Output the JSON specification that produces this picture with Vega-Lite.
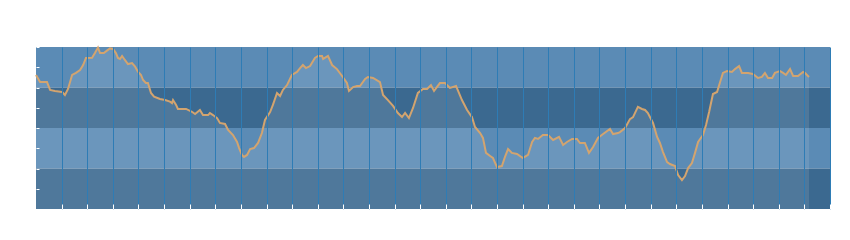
{
  "$schema": "https://vega.github.io/schema/vega-lite/v6.json",
  "width": 794,
  "height": 162,
  "autosize": {"type": "none"},
  "padding": {"left": 36, "top": 47, "right": 20, "bottom": 31},
  "background": "white",
  "config": {
    "view": {"stroke": null},
    "axis": {"labels": false, "domain": false, "title": null, "tickColor": "white", "tickWidth": 1},
    "axisX": {"grid": true, "gridColor": "#2e7cb5", "gridOpacity": 1, "gridWidth": 1, "tickSize": -5, "tickCount": 100},
    "axisY": {"grid": false, "tickSize": -3, "tickCount": 50}
  },
  "datasets": {
    "bands": [
      {"lo": 6, "hi": 8, "c": "a"},
      {"lo": 4, "hi": 6, "c": "b"},
      {"lo": 2, "hi": 4, "c": "a"},
      {"lo": 0, "hi": 2, "c": "b"}
    ],
    "series": [
      {"t": 0, "v": 6.62}, {"t": 0.16, "v": 6.27}, {"t": 0.43, "v": 6.27}, {"t": 0.55, "v": 5.88}, {"t": 0.74, "v": 5.83},
      {"t": 1.02, "v": 5.78}, {"t": 1.13, "v": 5.63}, {"t": 1.25, "v": 5.93}, {"t": 1.41, "v": 6.62}, {"t": 1.56, "v": 6.72},
      {"t": 1.72, "v": 6.86}, {"t": 1.84, "v": 7.11}, {"t": 1.95, "v": 7.46}, {"t": 2.19, "v": 7.47}, {"t": 2.3, "v": 7.7},
      {"t": 2.42, "v": 7.97}, {"t": 2.5, "v": 7.7}, {"t": 2.65, "v": 7.7}, {"t": 2.77, "v": 7.82}, {"t": 2.89, "v": 7.93},
      {"t": 3.01, "v": 7.9}, {"t": 3.12, "v": 7.7}, {"t": 3.2, "v": 7.46}, {"t": 3.28, "v": 7.41}, {"t": 3.36, "v": 7.56},
      {"t": 3.47, "v": 7.36}, {"t": 3.59, "v": 7.16}, {"t": 3.75, "v": 7.21}, {"t": 3.87, "v": 7.03}, {"t": 3.98, "v": 6.78},
      {"t": 4.1, "v": 6.62}, {"t": 4.18, "v": 6.37}, {"t": 4.29, "v": 6.22}, {"t": 4.37, "v": 6.22}, {"t": 4.49, "v": 5.73},
      {"t": 4.61, "v": 5.55}, {"t": 4.84, "v": 5.43}, {"t": 5.04, "v": 5.38}, {"t": 5.23, "v": 5.3}, {"t": 5.31, "v": 5.23},
      {"t": 5.35, "v": 5.38}, {"t": 5.47, "v": 5.14}, {"t": 5.54, "v": 4.94}, {"t": 5.86, "v": 4.94}, {"t": 6.09, "v": 4.8},
      {"t": 6.21, "v": 4.69}, {"t": 6.4, "v": 4.89}, {"t": 6.52, "v": 4.64}, {"t": 6.72, "v": 4.64}, {"t": 6.79, "v": 4.74},
      {"t": 6.91, "v": 4.64}, {"t": 7.07, "v": 4.49}, {"t": 7.18, "v": 4.25}, {"t": 7.38, "v": 4.2}, {"t": 7.5, "v": 3.9},
      {"t": 7.69, "v": 3.65}, {"t": 7.85, "v": 3.31}, {"t": 7.93, "v": 3.01}, {"t": 8.04, "v": 2.67}, {"t": 8.12, "v": 2.57},
      {"t": 8.24, "v": 2.67}, {"t": 8.36, "v": 2.96}, {"t": 8.51, "v": 3.01}, {"t": 8.67, "v": 3.26}, {"t": 8.82, "v": 3.75},
      {"t": 8.94, "v": 4.4}, {"t": 9.14, "v": 4.79}, {"t": 9.25, "v": 5.14}, {"t": 9.41, "v": 5.73}, {"t": 9.53, "v": 5.58},
      {"t": 9.64, "v": 5.88}, {"t": 9.8, "v": 6.12}, {"t": 9.99, "v": 6.62}, {"t": 10.19, "v": 6.77}, {"t": 10.31, "v": 6.96},
      {"t": 10.42, "v": 7.11}, {"t": 10.54, "v": 6.96}, {"t": 10.7, "v": 7.06}, {"t": 10.89, "v": 7.46}, {"t": 11.01, "v": 7.56},
      {"t": 11.17, "v": 7.56}, {"t": 11.21, "v": 7.41}, {"t": 11.4, "v": 7.56}, {"t": 11.56, "v": 7.11}, {"t": 11.75, "v": 6.91},
      {"t": 11.95, "v": 6.57}, {"t": 12.14, "v": 6.22}, {"t": 12.22, "v": 5.83}, {"t": 12.38, "v": 6.02}, {"t": 12.53, "v": 6.07},
      {"t": 12.65, "v": 6.07}, {"t": 12.85, "v": 6.42}, {"t": 12.96, "v": 6.52}, {"t": 13.16, "v": 6.47}, {"t": 13.43, "v": 6.27},
      {"t": 13.55, "v": 5.63}, {"t": 13.74, "v": 5.38}, {"t": 13.94, "v": 5.09}, {"t": 14.13, "v": 4.74}, {"t": 14.29, "v": 4.54},
      {"t": 14.41, "v": 4.74}, {"t": 14.56, "v": 4.49}, {"t": 14.72, "v": 4.99}, {"t": 14.91, "v": 5.73}, {"t": 15.11, "v": 5.93},
      {"t": 15.27, "v": 5.93}, {"t": 15.42, "v": 6.12}, {"t": 15.54, "v": 5.83}, {"t": 15.77, "v": 6.22}, {"t": 15.97, "v": 6.22},
      {"t": 16.16, "v": 5.98}, {"t": 16.4, "v": 6.07}, {"t": 16.48, "v": 5.83}, {"t": 16.63, "v": 5.38}, {"t": 16.83, "v": 4.89},
      {"t": 17.02, "v": 4.54}, {"t": 17.14, "v": 4.05}, {"t": 17.34, "v": 3.75}, {"t": 17.45, "v": 3.51}, {"t": 17.57, "v": 2.77},
      {"t": 17.73, "v": 2.62}, {"t": 17.84, "v": 2.52}, {"t": 18.0, "v": 2.07}, {"t": 18.19, "v": 2.12}, {"t": 18.31, "v": 2.57},
      {"t": 18.43, "v": 2.96}, {"t": 18.58, "v": 2.77}, {"t": 18.78, "v": 2.72}, {"t": 19.01, "v": 2.52}, {"t": 19.21, "v": 2.67},
      {"t": 19.37, "v": 3.31}, {"t": 19.48, "v": 3.51}, {"t": 19.6, "v": 3.46}, {"t": 19.79, "v": 3.65}, {"t": 19.99, "v": 3.65},
      {"t": 20.19, "v": 3.41}, {"t": 20.42, "v": 3.56}, {"t": 20.58, "v": 3.16}, {"t": 20.73, "v": 3.31}, {"t": 20.93, "v": 3.46},
      {"t": 21.12, "v": 3.46}, {"t": 21.24, "v": 3.26}, {"t": 21.43, "v": 3.26}, {"t": 21.59, "v": 2.77}, {"t": 21.75, "v": 3.06},
      {"t": 21.94, "v": 3.51}, {"t": 22.14, "v": 3.7}, {"t": 22.41, "v": 3.95}, {"t": 22.53, "v": 3.7}, {"t": 22.72, "v": 3.75},
      {"t": 22.8, "v": 3.8}, {"t": 23.0, "v": 4.0}, {"t": 23.19, "v": 4.44}, {"t": 23.31, "v": 4.54}, {"t": 23.5, "v": 5.04},
      {"t": 23.66, "v": 4.94}, {"t": 23.78, "v": 4.89}, {"t": 23.89, "v": 4.74}, {"t": 24.09, "v": 4.25}, {"t": 24.25, "v": 3.56},
      {"t": 24.36, "v": 3.26}, {"t": 24.48, "v": 2.81}, {"t": 24.64, "v": 2.32}, {"t": 24.75, "v": 2.22}, {"t": 24.95, "v": 2.12},
      {"t": 25.07, "v": 1.68}, {"t": 25.22, "v": 1.43}, {"t": 25.34, "v": 1.63}, {"t": 25.46, "v": 2.02}, {"t": 25.61, "v": 2.27},
      {"t": 25.73, "v": 2.77}, {"t": 25.85, "v": 3.31}, {"t": 26.04, "v": 3.65}, {"t": 26.16, "v": 4.15}, {"t": 26.28, "v": 4.79},
      {"t": 26.43, "v": 5.68}, {"t": 26.59, "v": 5.78}, {"t": 26.71, "v": 6.27}, {"t": 26.82, "v": 6.72}, {"t": 26.98, "v": 6.81},
      {"t": 27.17, "v": 6.77}, {"t": 27.29, "v": 6.91}, {"t": 27.45, "v": 7.06}, {"t": 27.56, "v": 6.72}, {"t": 27.8, "v": 6.72},
      {"t": 27.99, "v": 6.67}, {"t": 28.19, "v": 6.47}, {"t": 28.34, "v": 6.52}, {"t": 28.46, "v": 6.72}, {"t": 28.58, "v": 6.47},
      {"t": 28.74, "v": 6.47}, {"t": 28.85, "v": 6.72}, {"t": 29.05, "v": 6.81}, {"t": 29.17, "v": 6.72}, {"t": 29.28, "v": 6.62},
      {"t": 29.44, "v": 6.91}, {"t": 29.56, "v": 6.57}, {"t": 29.75, "v": 6.57}, {"t": 29.95, "v": 6.77}, {"t": 30.02, "v": 6.72},
      {"t": 30.18, "v": 6.52}
    ]
  },
  "layer": [
    {
      "data": {"name": "bands"},
      "mark": {"type": "rect", "opacity": 1},
      "encoding": {
        "y": {"field": "lo", "type": "quantitative", "scale": {"domain": [0, 8], "nice": false, "zero": false}, "axis": {"values": [1, 2, 3, 4, 5, 6, 7, 8], "tickCount": 50, "zindex": 2}, "title": null},
        "y2": {"field": "hi"},
        "color": {"field": "c", "type": "nominal", "scale": {"domain": ["a", "b"], "range": ["#5b8bb5", "#3b6990"]}, "legend": null}
      }
    },
    {
      "data": {"name": "series"},
      "mark": {"type": "area", "color": "white", "opacity": 0.1},
      "encoding": {
        "x": {"field": "t", "type": "quantitative", "scale": {"domain": [0, 31], "nice": false, "zero": false}, "axis": {"values": [1, 2, 3, 4, 5, 6, 7, 8, 9, 10, 11, 12, 13, 14, 15, 16, 17, 18, 19, 20, 21, 22, 23, 24, 25, 26, 27, 28, 29, 30, 31], "tickCount": 100, "zindex": 1}, "title": null},
        "y": {"field": "v", "type": "quantitative", "title": null}
      }
    },
    {
      "data": {"name": "series"},
      "mark": {"type": "line", "color": "#d3a46f", "strokeWidth": 2},
      "encoding": {
        "x": {"field": "t", "type": "quantitative", "title": null},
        "y": {"field": "v", "type": "quantitative", "title": null}
      }
    },
    {
      "mark": {"type": "rule", "color": "#3b6b96", "strokeWidth": 1.5},
      "encoding": {
        "y": {"datum": 8}
      }
    }
  ]
}
